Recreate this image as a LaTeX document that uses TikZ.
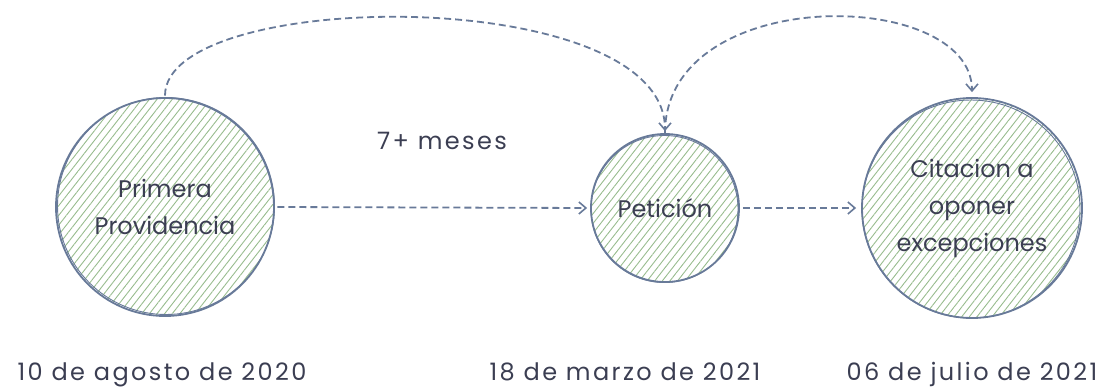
\documentclass[tikz,border=0pt]{standalone}
\usepackage{fontspec}
\setmainfont{Poppins}
\usetikzlibrary{arrows.meta,patterns.meta}
\definecolor{strokec}{HTML}{687A99}
\definecolor{hatchc}{HTML}{98BC8E}
\definecolor{textc}{HTML}{3B3E52}
\tikzset{
  circ/.style={circle, draw=strokec, line width=1.8pt, inner sep=0pt,
    pattern={Lines[angle=52,distance=6pt,line width=0.9pt]}, pattern color=hatchc,
    text=textc, align=center, font=\fontsize{24}{37}\selectfont},
  conn/.style={draw=strokec, line width=1.8pt, dash pattern=on 7pt off 4pt,
    -{Straight Barb[length=7pt,width=12pt,line width=1.6pt]}},
  lbl/.style={text=textc, font=\fontsize{24}{26}\selectfont\addfontfeatures{LetterSpace=10}, inner sep=0pt, anchor=base},
  sketch/.style={draw=strokec, line width=0.9pt}
}
\begin{document}
\begin{tikzpicture}[x=1pt,y=-1pt]
\useasboundingbox (0,0) rectangle (1105,388);
\node[circ, minimum size=218pt] (a) at (165,207) {Primera\\Providencia};
\node[circ, minimum size=148pt] (b) at (665,208) {Petición};
\node[circ, minimum size=220pt] (c) at (972,208) {Citacion a\\oponer\\excepciones};
% sketchy second strokes
\draw[sketch] (166,206) circle[radius=108.5pt];
\draw[sketch] (664.5,209) circle[radius=73.5pt];
\draw[sketch] (971,209) circle[radius=109pt];
% connectors
\draw[conn, shorten <=3pt, shorten >=3pt] (a.east) -- (b.west);
\draw[conn, shorten <=3pt, shorten >=5pt] (b.east) -- (c.west);
\draw[conn, shorten <=2pt, shorten >=2pt] (a.north) .. controls +(0,-110) and +(0,-150) .. (b.north);
\draw[conn, shorten >=5pt] (b.north) .. controls +(0,-150) and +(0,-110) .. (c.north);
% labels
\node[lbl] (m) at (442,149) {7+ meses};
\node[lbl] (d1) at (162,380) {10 de agosto de 2020};
\node[lbl] (d2) at (625,380) {18 de marzo de 2021};
\node[lbl] (d3) at (972,380) {06 de julio de 2021};
\end{tikzpicture}
\end{document}
